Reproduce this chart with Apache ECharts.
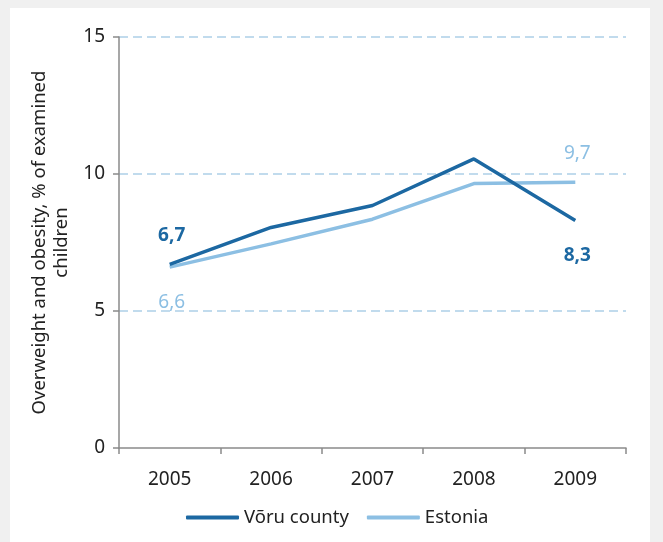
<!DOCTYPE html>
<html><head><meta charset="utf-8">
<script src="https://cdn.jsdelivr.net/npm/echarts@6/dist/echarts.min.js"></script>
<style>html,body{margin:0;padding:0;background:#f0f0f0}#c{width:663px;height:542px}</style>
</head><body><div id="c"></div>
<script>
const years = ['2005','2006','2007','2008','2009'];
const voru = [6.7, 8.05, 8.85, 10.55, 8.3];
const estonia = [6.6, 7.45, 8.35, 9.65, 9.7];
const yTicks = [0, 5, 10, 15];

const DARK = '#1c68a2', LIGHT = '#8cbfe3';
const FONT = 'Noto Sans';
function withLabels(vals, color, bold, firstPos, lastPos) {
  return vals.map((v, i) => {
    if (i === 0 || i === vals.length - 1) {
      const pos = i === 0 ? firstPos : lastPos;
      return { value: v, label: { show: true, position: pos, distance: pos === 'top' ? 19 : 26,
        offset: [2, 0],
        formatter: p => String(p.value).replace('.', ','), color: color,
        fontWeight: bold ? 'bold' : 'normal', fontSize: 19, fontFamily: FONT } };
    }
    return v;
  });
}
const chart = echarts.init(document.getElementById('c'));
chart.setOption({
  backgroundColor: '#f0f0f0',
  animation: false,
  graphic: [{ type: 'rect', z: -10, silent: true, shape: { x: 10, y: 8, width: 640, height: 540 }, style: { fill: '#ffffff' } }],
  grid: { left: 119, top: 37, right: 37, bottom: 94 },
  legend: { top: 503, left: 181, itemWidth: 53, itemHeight: 4, itemGap: 18,
    textStyle: { fontFamily: FONT, fontSize: 18.5, color: '#222' },
    data: [{ name: 'Võru county', icon: 'roundRect' }, { name: 'Estonia', icon: 'roundRect' }] },
  xAxis: { type: 'category', data: years, boundaryGap: true,
    axisLine: { lineStyle: { color: '#8a8a8a', width: 1.5 } },
    axisTick: { show: true, length: 6, lineStyle: { color: '#8a8a8a', width: 1.5 } },
    axisLabel: { fontFamily: FONT, fontSize: 19, color: '#222', margin: 22 } },
  yAxis: { type: 'value', min: yTicks[0], max: yTicks[yTicks.length - 1], interval: 5,
    name: 'Overweight and obesity, % of examined\nchildren', nameLocation: 'middle', nameGap: 41, nameRotate: 90,
    nameTextStyle: { fontFamily: FONT, fontSize: 18.5, color: '#222', lineHeight: 22 },
    axisLine: { show: true, lineStyle: { color: '#8a8a8a', width: 1.5 } },
    axisTick: { show: true, length: 6, lineStyle: { color: '#8a8a8a', width: 1.5 } },
    axisLabel: { fontFamily: FONT, fontSize: 19, color: '#222', margin: 14 },
    splitLine: { show: true, showMinLine: false, lineStyle: { color: '#add0e8', type: [9, 5], width: 1.5 } } },
  series: [
    { name: 'Võru county', type: 'line', symbol: 'circle', symbolSize: 0, showSymbol: true,
      data: withLabels(voru, DARK, true, 'top', 'bottom'),
      lineStyle: { color: DARK, width: 3.5 }, itemStyle: { color: DARK }, z: 3 },
    { name: 'Estonia', type: 'line', symbol: 'circle', symbolSize: 0, showSymbol: true,
      data: withLabels(estonia, LIGHT, false, 'bottom', 'top'),
      lineStyle: { color: LIGHT, width: 3.5 }, itemStyle: { color: LIGHT }, z: 2 }
  ]
});
</script></body></html>
